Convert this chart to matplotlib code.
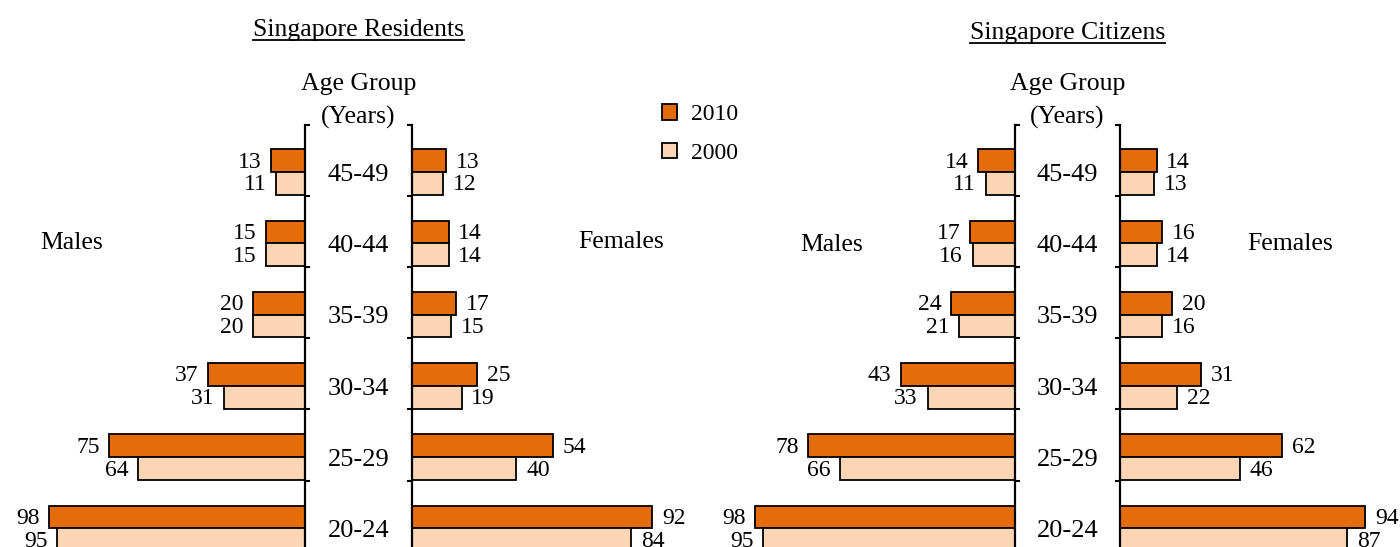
import matplotlib
matplotlib.use("Agg")
import matplotlib.pyplot as plt
from matplotlib.patches import Patch
from matplotlib.lines import Line2D
from matplotlib.transforms import blended_transform_factory
import numpy as np

plt.rcParams["font.family"] = ["Liberation Serif", "DejaVu Serif"]

# age groups, top to bottom
age_groups = ["45-49", "40-44", "35-39", "30-34", "25-29", "20-24"]
years = ["2010", "2000"]

# Singapore residents (per 1,000)
res_male_2010 = [13, 15, 20, 37, 75, 98]
res_male_2000 = [11, 15, 20, 31, 64, 95]
res_female_2010 = [13, 14, 17, 25, 54, 92]
res_female_2000 = [12, 14, 15, 19, 40, 84]

# Singapore citizens
cit_male_2010 = [14, 17, 24, 43, 78, 98]
cit_male_2000 = [11, 16, 21, 33, 66, 95]
cit_female_2010 = [14, 16, 20, 31, 62, 94]
cit_female_2000 = [13, 14, 16, 22, 46, 87]

c2010 = "#E46C0A"
c2000 = "#FCD5B5"

W, H = 1400, 547
fig = plt.figure(figsize=(W / 100, H / 100), dpi=100)

ypos = np.arange(len(age_groups))
bar_h = 0.32
ylim = (5.26, -0.66)
ticks = [-0.66] + list(ypos[:-1] + 0.33)


def px_axes(x0, x1, y0=125, y1=547):
    return fig.add_axes([x0 / W, 1 - y1 / H, (x1 - x0) / W, (y1 - y0) / H])


def half(ax, v2010, v2000, side, xmax):
    ax.barh(ypos - bar_h / 2, v2010, height=bar_h, color=c2010, edgecolor="black", linewidth=1.3)
    ax.barh(ypos + bar_h / 2, v2000, height=bar_h, color=c2000, edgecolor="black", linewidth=1.3)
    ax.set_ylim(*ylim)
    for s in ["top", "bottom", "left", "right"]:
        ax.spines[s].set_visible(False)
    ax.set_xticks([])
    ax.set_yticks(ticks)
    ax.set_yticklabels([])
    if side == "male":
        ax.set_xlim(xmax, 0)
        ax.spines["right"].set_visible(True)
        ax.spines["right"].set_linewidth(1.6)
        ax.yaxis.tick_right()
        off, ha = -7, "right"
    else:
        ax.set_xlim(0, xmax)
        ax.spines["left"].set_visible(True)
        ax.spines["left"].set_linewidth(1.6)
        off, ha = 7, "left"
    ax.tick_params(axis="y", direction="out", length=3.5, width=1.5)
    for vals, dy in [(v2010, -bar_h / 2), (v2000, bar_h / 2)]:
        for y, v in zip(ypos, vals):
            ax.annotate(str(v), (v, y + dy + 0.02), xytext=(off, 0), textcoords="offset points",
                        ha=ha, va="center", fontsize=17, annotation_clip=False)


panels = [
    ("Singapore Residents", res_male_2010, res_male_2000, res_female_2010, res_female_2000,
     (0, 305, 116.9), (412, 700, 110.3), 30, 243, 72, 621),
    ("Singapore Citizens", cit_male_2010, cit_male_2000, cit_female_2010, cit_female_2000,
     (710, 1015, 115.1), (1120, 1400, 107.3), 33, 245, 832, 1290),
]

titles = []
for (title, m10, m00, f10, f00, mbox, fbox, ty, sy, mx, fx) in panels:
    axm = px_axes(mbox[0], mbox[1])
    half(axm, m10, m00, "male", mbox[2])
    axf = px_axes(fbox[0], fbox[1])
    half(axf, f10, f00, "female", fbox[2])

    cx = (mbox[1] + fbox[0]) / 2
    tr = blended_transform_factory(fig.transFigure, axm.transData)
    for y, lab in zip(ypos, age_groups):
        axm.text(cx / W, y + 0.04, lab, transform=tr, ha="center", va="center",
                 fontsize=19, clip_on=False)

    fig.text(cx / W, 1 - 84 / H, "Age Group", ha="center", va="center", fontsize=18.5)
    fig.text(cx / W, 1 - 117 / H, "(Years)", ha="center", va="center", fontsize=18.5)
    fig.text(mx / W, 1 - sy / H, "Males", ha="center", va="center", fontsize=18.5)
    fig.text(fx / W, 1 - (sy - 1) / H, "Females", ha="center", va="center", fontsize=18.5)

    t = fig.text(cx / W, 1 - ty / H, title, ha="center", va="center", fontsize=18.5)
    titles.append(t)

handles = [Patch(facecolor=c2010, edgecolor="black", linewidth=1.3),
           Patch(facecolor=c2000, edgecolor="black", linewidth=1.3)]
fig.legend(handles, years, loc="upper left", bbox_to_anchor=(650 / W, 1 - 92 / H),
           frameon=False, fontsize=17, handlelength=0.65, handleheight=0.65,
           handletextpad=0.6, labelspacing=0.75, borderpad=0)

# underline the panel titles
fig.canvas.draw()
renderer = fig.canvas.get_renderer()
for t in titles:
    bb = t.get_window_extent(renderer)
    yline = bb.y0 + 1
    fig.add_artist(Line2D([bb.x0 / W, bb.x1 / W], [yline / H, yline / H],
                          transform=fig.transFigure, color="black", linewidth=1.3))

fig.savefig("out.png", dpi=100)
